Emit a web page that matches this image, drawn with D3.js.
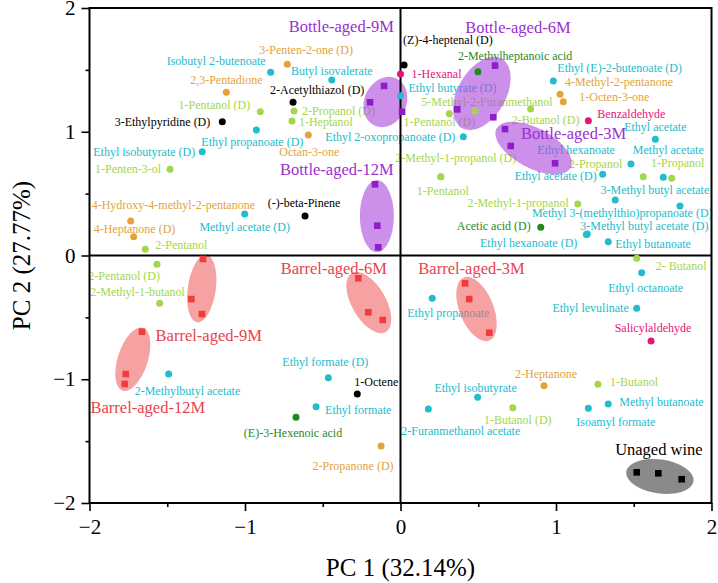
<!DOCTYPE html>
<html><head><meta charset="utf-8">
<script src="https://cdn.jsdelivr.net/npm/d3@7"></script>
<style>body{margin:0;background:#fff}svg{display:block}</style>
</head><body>
<svg id="chart" width="718" height="583"></svg>
<script>
// ---------------- DATA ----------------
const compoundNames = [
 "Isobutyl 2-butenoate","Butyl isovalerate","Ethyl propanoate (D)","Ethyl butyrate (D)","Ethyl 2-oxopropanoate (D)",
 "Ethyl (E)-2-butenoate (D)","Ethyl acetate","Ethyl hexanoate","Methyl acetate","Ethyl acetate (D)",
 "3-Methyl butyl acetate","Methyl 3-(methylthio)propanoate (D)","3-Methyl butyl acetate (D)","Ethyl hexanoate (D)","Ethyl butanoate",
 "Ethyl octanoate","Ethyl levulinate","Methyl butanoate","Isoamyl formate","Ethyl isobutyrate",
 "2-Furanmethanol acetate","Ethyl propanoate","Ethyl formate (D)","Ethyl formate","2-Methylbutyl acetate",
 "Methyl acetate (D)","Ethyl isobutyrate (D)",
 "3-Penten-2-one (D)","2,3-Pentadione","Octan-3-one","4-Methyl-2-pentanone","1-Octen-3-one",
 "4-Hydroxy-4-methyl-2-pentanone","4-Heptanone (D)","2-Heptanone","2-Propanone (D)",
 "1-Pentanol (D)","2-Propanol (D)","1-Heptanol","1-Penten-3-ol","2-Pentanol","2-Pentanol (D)","2-Methyl-1-butanol",
 "5-Methyl-2-Furanmethanol","1-Pentanol (D)","2-Butanol (D)","1-Pentanol","2-Methyl-1-propanol (D)","2-Methyl-1-propanol",
 "2-Propanol","1-Propanol","2- Butanol","1-Butanol","1-Butanol (D)",
 "3-Ethylpyridine (D)","2-Acetylthiazol (D)","(Z)-4-heptenal (D)","(-)-beta-Pinene","1-Octene",
 "2-Methylheptanoic acid","Acetic acid (D)","(E)-3-Hexenoic acid",
 "1-Hexanal","Benzaldehyde","Salicylaldehyde"
];
const compoundPC1 = [
 -0.835,-0.442,-0.927,0.000,0.404,
 0.983,1.639,1.482,1.690,1.300,
 1.797,1.381,1.201,1.195,1.336,
 1.551,1.519,1.336,1.208,0.496,
 0.179,0.204,-0.464,-0.543,-1.491,
 -1.002,-1.275,
 -0.728,-1.120,-0.593,1.026,1.047,
 -1.735,-1.716,0.923,-0.125,
 -0.902,-0.685,-0.698,-1.482,-1.641,-1.566,-1.549,
 0.479,0.314,0.837,0.259,0.259,1.140,
 1.561,1.744,1.519,1.270,0.722,
 -1.146,-0.691,0.023,-0.614,-0.278,
 0.498,0.902,-0.672,
 0.000,1.208,1.611
];
const compoundPC2 = [
 1.480,1.418,1.014,1.291,0.960,
 1.410,0.939,0.739,0.632,0.656,
 0.400,0.448,0.174,0.170,0.112,
 -0.139,-0.427,-1.200,-1.235,-1.146,
 -1.240,-0.346,-0.987,-1.222,-0.958,
 0.335,0.839,
 1.545,1.319,0.974,1.303,1.243,
 0.279,0.152,-1.052,-1.539,
 1.162,1.168,1.087,0.697,0.050,-0.071,-0.386,
 1.168,1.146,1.184,0.637,0.637,0.416,
 0.637,0.624,-0.023,-1.041,-1.230,
 1.081,1.238,1.539,0.319,-1.119,
 1.485,0.228,-1.307,
 1.467,1.089,-0.691
];
const compoundClass = [].concat(
 Array(27).fill("ester"), Array(9).fill("ketone"), Array(18).fill("alcohol"),
 Array(5).fill("other"), Array(3).fill("acid"), Array(3).fill("aldehyde")
);

const sampleGroups = ["Bottle-aged-9M","Bottle-aged-6M","Bottle-aged-3M","Bottle-aged-12M",
 "Barrel-aged-6M","Barrel-aged-3M","Barrel-aged-9M","Barrel-aged-12M","Unaged wine"];
const sampleType = ["bottle","bottle","bottle","bottle","barrel","barrel","barrel","barrel","unaged"];
const samplePC1 = [[-0.106,-0.196,0.010],[0.608,0.365,0.597],[0.672,0.709,0.994],[-0.164,-0.149,-0.143],
 [-0.271,-0.207,-0.114],[0.415,0.442,0.571],[-1.270,-1.345,-1.277],[-1.662,-1.767,-1.774],[1.519,1.658,1.808]];
const samplePC2 = [[1.370,1.238,1.162],[1.534,1.181,1.117],[1.022,0.885,0.745],[0.575,0.241,0.066],
 [-0.184,-0.459,-0.521],[-0.225,-0.352,-0.624],[-0.028,-0.352,-0.473],[-0.616,-0.958,-1.038],[-1.752,-1.760,-1.808]];

const xTicks = [-2,-1,0,1,2];
const yTicks = [-2,-1,0,1,2];
const xMinorTicks = [-1.5,-0.5,0.5,1.5];
const yMinorTicks = [-1.5,-0.5,0.5,1.5];
const xTitle = "PC 1 (32.14%)";
const yTitle = "PC 2 (27.77%)";

// ---------------- LAYOUT (label offsets in px, relative to the mark) ----------------
const labelLayout = [
 ["end",-5,-11],["middle",0,-9],["middle",-4,12],["start",8,-8],["end",-8,0],
 ["start",4,-13],["middle",0,-12],["end",-16,-14],["middle",5,-27],["end",-6,2],
 ["middle",-25,-16],["middle",7,13],["start",-7,-8],["end",-9,9],["start",7,2],
 ["middle",4,15],["end",-8,0],["start",11,-2],["start",-12,14],["middle",-2,-9],
 ["start",-27,22],["start",-25,15],["middle",-3,-16],["start",9,3],["start",-34,17],
 ["middle",0,13],["end",-7,0],
 ["start",-28,-14],["middle",0,-12],["middle",1,17],["start",5,-12],["start",16,-5],
 ["start",-39,-16],["start",-40,-8],["middle",2,-12],["middle",-28,20],
 ["end",-10,-7],["start",8,0],["start",7,1],["end",-9,0],["start",10,-4],["end",3,12],["middle",-22,-11],
 ["middle",12,-9],["middle",-10,8],["middle",15,11],["middle",2,14],["middle",15,-19],["end",-9,-1],
 ["end",-21,-13],["middle",6,-15],["start",19,8],["start",12,-2],["middle",5,12],
 ["end",-12,0],["start",-23,-12],["start",-1,-25],["middle",-1,-13],["start",-3,-12],
 ["start",-20,-16],["end",-10,-1],["middle",-3,16],
 ["start",11,0],["start",9,-7],["middle",2,-13]
];
// ellipse: [dcx, dcy, rx, ry, rotation] relative to group mean (px)
const ellipseLayout = [
 [0,2,21,26,25],[0,-4,24,40,30],[10,2,42,20,28],[0,-3,17,36,0],
 [-1,-1,17,34,-30],[2,4,17,34,-22],[3,-2,14,34,8],[2,-4,15,33,18],[1,1.5,34,17,8]
];
// group title offsets [dx, dy] relative to group mean (px)
const titleLayout = [[-44,-73],[36,-70],[50,-13],[-40,-50],[-36,-35],[-3,-37],[10,45],[17,44.5],[0,-25]];

const classColor = {ester:"#22bccc", ketone:"#e3a33a", alcohol:"#a5d64a", other:"#000000", acid:"#1f8a1f", aldehyde:"#e6157a"};
const typeStyle = {
  bottle:{fill:"#aa46dc", op:0.6, mark:"#8e1ec8", title:"#9b2fd0"},
  barrel:{fill:"#f06464", op:0.6, mark:"#f03c3c", title:"#e8434b"},
  unaged:{fill:"#8a8a8a", op:1, mark:"#000000", title:"#000000"}
};

// ---------------- CHART ----------------
const svg = d3.select("#chart");
const font = "'Liberation Serif','Times New Roman',serif";
const L = 89.5, R = 711.5, T = 8, B = 503;
const x = d3.scaleLinear().domain([-2,2]).range([L,R]);
const y = d3.scaleLinear().domain([-2,2]).range([B,T]);

// compound labels
const comp = compoundNames.map((n,i)=>({name:n, px:x(compoundPC1[i]), py:y(compoundPC2[i]), cls:compoundClass[i], lay:labelLayout[i]}));
svg.append("g").selectAll("text").data(comp).join("text")
  .attr("x", d=>d.px + d.lay[1]).attr("y", d=>d.py + d.lay[2])
  .attr("text-anchor", d=>d.lay[0]).attr("dominant-baseline","central")
  .attr("font-family", font).attr("font-size", 12)
  .attr("fill", d=>classColor[d.cls]).text(d=>d.name);

// groups
const groups = sampleGroups.map((g,i)=>{
  const pts = samplePC1[i].map((v,j)=>({px:x(v), py:y(samplePC2[i][j])}));
  return {name:g, type:sampleType[i], pts, mx:d3.mean(pts,p=>p.px), my:d3.mean(pts,p=>p.py), el:ellipseLayout[i], tl:titleLayout[i]};
});
svg.append("g").selectAll("ellipse").data(groups).join("ellipse")
  .attr("cx",0).attr("cy",0).attr("rx",d=>d.el[2]).attr("ry",d=>d.el[3])
  .attr("transform", d=>`translate(${d.mx+d.el[0]},${d.my+d.el[1]}) rotate(${d.el[4]})`)
  .attr("fill", d=>typeStyle[d.type].fill).attr("fill-opacity", d=>typeStyle[d.type].op);

// zero lines
svg.append("line").attr("x1",x(0)).attr("x2",x(0)).attr("y1",T).attr("y2",B).attr("stroke","#000").attr("stroke-width",2);
svg.append("line").attr("x1",L).attr("x2",R).attr("y1",y(0)).attr("y2",y(0)).attr("stroke","#000").attr("stroke-width",2);

// compound dots
svg.append("g").selectAll("circle").data(comp).join("circle")
  .attr("cx",d=>d.px).attr("cy",d=>d.py).attr("r",3.5).attr("fill",d=>classColor[d.cls]);

// sample squares
const sq = groups.flatMap(g=>g.pts.map(p=>({...p, type:g.type})));
svg.append("g").selectAll("rect").data(sq).join("rect")
  .attr("x",d=>d.px-3.3).attr("y",d=>d.py-3.3).attr("width",6.6).attr("height",6.6)
  .attr("fill",d=>typeStyle[d.type].mark);

// group titles
svg.append("g").selectAll("text").data(groups).join("text")
  .attr("x",d=>d.mx+d.tl[0]).attr("y",d=>d.my+d.tl[1])
  .attr("text-anchor","middle").attr("dominant-baseline","central")
  .attr("font-family",font).attr("font-size",16.5)
  .attr("fill",d=>typeStyle[d.type].title).text(d=>d.name);

// frame
svg.append("rect").attr("x",L).attr("y",T).attr("width",R-L).attr("height",B-T)
  .attr("fill","none").attr("stroke","#000").attr("stroke-width",2);

// axes
function styleAxis(g){
  g.select(".domain").remove();
  g.selectAll("line").attr("stroke","#000").attr("stroke-width",1.6);
  g.selectAll("text").attr("font-family",font).attr("font-size",21).attr("fill","#000");
}
const fmt = d3.format("d");
svg.append("g").attr("transform",`translate(0,${B})`)
  .call(d3.axisBottom(x).tickValues(xTicks).tickSize(8).tickPadding(8).tickFormat(fmt)).call(styleAxis);
svg.append("g").attr("transform",`translate(0,${B})`)
  .call(d3.axisBottom(x).tickValues(xMinorTicks).tickSize(4).tickFormat("")).call(styleAxis);
svg.append("g").attr("transform",`translate(${L},0)`)
  .call(d3.axisLeft(y).tickValues(yTicks).tickSize(8).tickPadding(6).tickFormat(fmt)).call(styleAxis);
svg.append("g").attr("transform",`translate(${L},0)`)
  .call(d3.axisLeft(y).tickValues(yMinorTicks).tickSize(4).tickFormat("")).call(styleAxis);

// axis titles
svg.append("text").attr("x",(L+R)/2).attr("y",576).attr("text-anchor","middle")
  .attr("font-family",font).attr("font-size",25).text(xTitle);
svg.append("text").attr("transform",`translate(30,${(T+B)/2}) rotate(-90)`).attr("text-anchor","middle")
  .attr("font-family",font).attr("font-size",25).text(yTitle);
</script>
</body></html>
